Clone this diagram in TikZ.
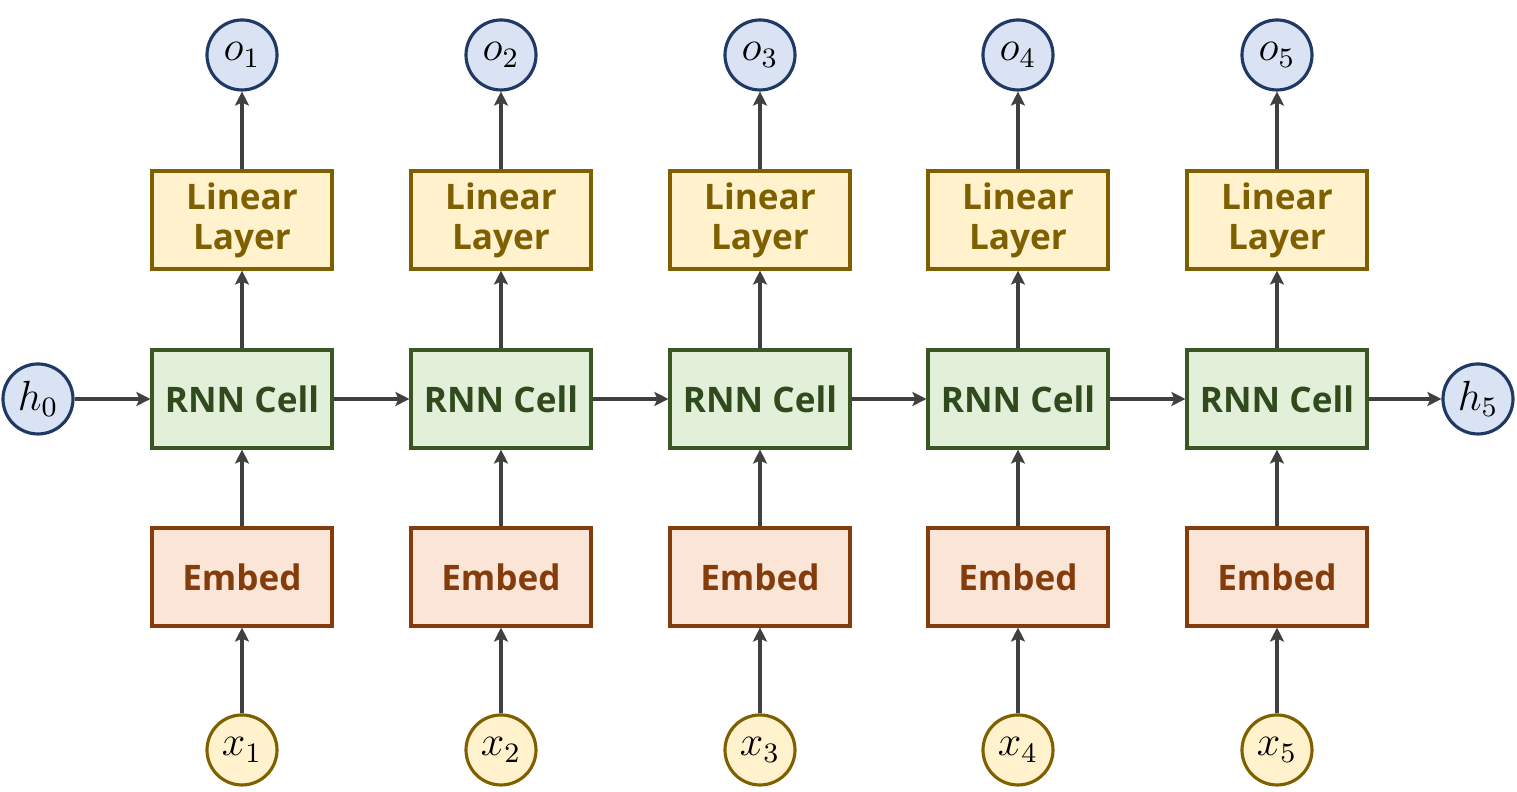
\documentclass[tikz,border=0pt]{standalone}
\usepackage{fontspec}
\setsansfont{Open Sans}
\usepackage{tikz}
\usetikzlibrary{arrows.meta}
\definecolor{linfill}{HTML}{FFF2CC}
\definecolor{lindraw}{HTML}{7F6000}
\definecolor{rnnfill}{HTML}{E2F0D9}
\definecolor{rnndraw}{HTML}{385723}
\definecolor{embfill}{HTML}{FBE5D6}
\definecolor{embdraw}{HTML}{843C0C}
\definecolor{hidfill}{HTML}{DAE3F3}
\definecolor{hiddraw}{HTML}{203864}
\definecolor{arrgray}{HTML}{404040}
\tikzset{box/.style={draw,line width=0.9pt,minimum width=1.8cm,minimum height=0.98cm,
   font=\sffamily\bfseries,align=center,inner sep=0pt},
 linbox/.style={box,fill=linfill,draw=lindraw,text=lindraw,font=\sffamily\bfseries\linespread{0.95}\selectfont},
 rnnbox/.style={box,fill=rnnfill,draw=rnndraw,text=rnndraw!85!black},
 embbox/.style={box,fill=embfill,draw=embdraw,text=embdraw},
 hid/.style={circle,draw=hiddraw,fill=hidfill,line width=0.9pt,minimum size=0.7cm,inner sep=0pt,font=\large},
 inp/.style={circle,draw=lindraw,fill=linfill,line width=0.9pt,minimum size=0.7cm,inner sep=0pt,font=\large},
 flow/.style={draw=arrgray,line width=0.9pt,-{Stealth[length=1.4mm,width=1.4mm,inset=0.3mm]}},
 }

\begin{document}
\begin{tikzpicture}
        \useasboundingbox (0,0) rectangle (15.17,7.92);
        % outputs
        \node[hid] (o1) at (2.42, 7.37) {$o_1$};
        \node[hid] (o2) at (5.01, 7.37) {$o_2$};
        \node[hid] (o3) at (7.60, 7.37) {$o_3$};
        \node[hid] (o4) at (10.18, 7.37) {$o_4$};
        \node[hid] (o5) at (12.77, 7.37) {$o_5$};
        % linear layers
        \node[linbox] (lin1) at (2.42, 5.72) {Linear\\Layer};
        \node[linbox] (lin2) at (5.01, 5.72) {Linear\\Layer};
        \node[linbox] (lin3) at (7.60, 5.72) {Linear\\Layer};
        \node[linbox] (lin4) at (10.18, 5.72) {Linear\\Layer};
        \node[linbox] (lin5) at (12.77, 5.72) {Linear\\Layer};
        % rnn cells
        \node[hid] (h0) at (0.38, 3.93) {$h_0$};
        \node[rnnbox] (rnn1) at (2.42, 3.93) {RNN Cell};
        \node[rnnbox] (rnn2) at (5.01, 3.93) {RNN Cell};
        \node[rnnbox] (rnn3) at (7.60, 3.93) {RNN Cell};
        \node[rnnbox] (rnn4) at (10.18, 3.93) {RNN Cell};
        \node[rnnbox] (rnn5) at (12.77, 3.93) {RNN Cell};
        \node[hid] (h5) at (14.78, 3.93) {$h_5$};
        % embeddings
        \node[embbox] (emb1) at (2.42, 2.15) {Embed};
        \node[embbox] (emb2) at (5.01, 2.15) {Embed};
        \node[embbox] (emb3) at (7.60, 2.15) {Embed};
        \node[embbox] (emb4) at (10.18, 2.15) {Embed};
        \node[embbox] (emb5) at (12.77, 2.15) {Embed};
        % inputs
        \node[inp] (x1) at (2.42, 0.42) {$x_1$};
        \node[inp] (x2) at (5.01, 0.42) {$x_2$};
        \node[inp] (x3) at (7.60, 0.42) {$x_3$};
        \node[inp] (x4) at (10.18, 0.42) {$x_4$};
        \node[inp] (x5) at (12.77, 0.42) {$x_5$};

        \draw[flow] (x1) -- (emb1);
        \draw[flow] (x2) -- (emb2);
        \draw[flow] (x3) -- (emb3);
        \draw[flow] (x4) -- (emb4);
        \draw[flow] (x5) -- (emb5);
        \draw[flow] (emb1) -- (rnn1);
        \draw[flow] (emb2) -- (rnn2);
        \draw[flow] (emb3) -- (rnn3);
        \draw[flow] (emb4) -- (rnn4);
        \draw[flow] (emb5) -- (rnn5);
        \draw[flow] (rnn1) -- (lin1);
        \draw[flow] (rnn2) -- (lin2);
        \draw[flow] (rnn3) -- (lin3);
        \draw[flow] (rnn4) -- (lin4);
        \draw[flow] (rnn5) -- (lin5);
        \draw[flow] (lin1) -- (o1);
        \draw[flow] (lin2) -- (o2);
        \draw[flow] (lin3) -- (o3);
        \draw[flow] (lin4) -- (o4);
        \draw[flow] (lin5) -- (o5);
        \draw[flow] (h0) -- (rnn1);
        \draw[flow] (rnn1) -- (rnn2);
        \draw[flow] (rnn2) -- (rnn3);
        \draw[flow] (rnn3) -- (rnn4);
        \draw[flow] (rnn4) -- (rnn5);
        \draw[flow] (rnn5) -- (h5);
    \end{tikzpicture}
\end{document}
